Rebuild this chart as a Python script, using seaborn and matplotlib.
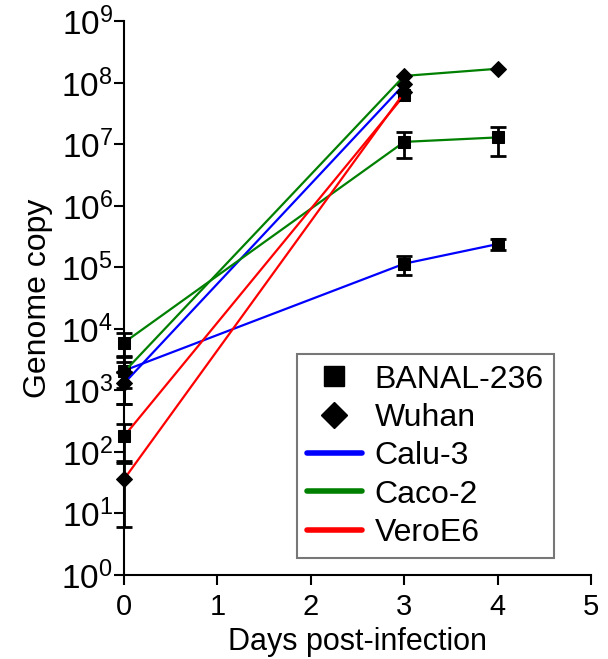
import numpy as np
import pandas as pd
import matplotlib
matplotlib.use("Agg")
import matplotlib.pyplot as plt
from matplotlib.lines import Line2D
import seaborn as sns

# values
banal_days = [0, 3, 4]
banal_calu3 = [2100, 1.15e5, 2.4e5]
banal_calu3_err = [1500, 4e4, 5e4]
banal_caco2 = [6000, 1.1e7, 1.3e7]
banal_caco2_err = [2500, 5e6, 6.5e6]
banal_vero_days = [0, 3]
banal_vero = [180, 6.3e7]
banal_vero_err = [110, 0]

wuhan_days = [0, 3]
wuhan_calu3 = [1300, 9.5e7]
wuhan_calu3_err = [700, 0]
wuhan_caco2_days = [0, 3, 4]
wuhan_caco2 = [2000, 1.3e8, 1.7e8]
wuhan_caco2_err = [900, 0, 0]
wuhan_vero = [36, 7e7]
wuhan_vero_err = [30, 0]

viruses = ["BANAL-236", "Wuhan"]
cells = ["Calu-3", "Caco-2", "VeroE6"]
cell_colors = {"Calu-3": "#0000FF", "Caco-2": "#008000", "VeroE6": "#FF0000"}
virus_markers = {"BANAL-236": "s", "Wuhan": "D"}

series = [
    ("BANAL-236", "Calu-3", banal_days, banal_calu3, banal_calu3_err),
    ("BANAL-236", "Caco-2", banal_days, banal_caco2, banal_caco2_err),
    ("BANAL-236", "VeroE6", banal_vero_days, banal_vero, banal_vero_err),
    ("Wuhan", "Calu-3", wuhan_days, wuhan_calu3, wuhan_calu3_err),
    ("Wuhan", "Caco-2", wuhan_caco2_days, wuhan_caco2, wuhan_caco2_err),
    ("Wuhan", "VeroE6", wuhan_days, wuhan_vero, wuhan_vero_err),
]

rows = []
for virus, cell, days, vals, errs in series:
    for d, v, e in zip(days, vals, errs):
        rows.append({"virus": virus, "cell": cell, "day": d, "copy": v, "err": e})
df = pd.DataFrame(rows)

sns.set_style("ticks")
plt.rcParams["font.family"] = ["Liberation Sans", "DejaVu Sans"]
plt.rcParams["mathtext.fontset"] = "custom"
plt.rcParams["mathtext.rm"] = "Liberation Sans"
plt.rcParams["mathtext.it"] = "Liberation Sans"
plt.rcParams["text.color"] = "black"
plt.rcParams["axes.labelcolor"] = "black"
plt.rcParams["xtick.color"] = "black"
plt.rcParams["ytick.color"] = "black"

fig = plt.figure(figsize=(6.08, 6.59), dpi=100)
ax = fig.add_axes([0.204, 0.1275, 0.768, 0.84])

# error bars first, black with caps
eb = df[df["err"] > 0]
ebars = ax.errorbar(eb["day"], eb["copy"], yerr=eb["err"], fmt="none", ecolor="black",
                    elinewidth=2, capsize=5.5, capthick=2, zorder=2)
for art in ebars.lines[1] + ebars.lines[2]:
    art.set_clip_on(False)

sns.lineplot(data=df, x="day", y="copy", hue="cell", style="virus",
             palette=cell_colors, markers=virus_markers, dashes=False,
             hue_order=cells, style_order=viruses,
             markersize=8, markerfacecolor="black", markeredgecolor="black",
             linewidth=1.6, legend=False, ax=ax, zorder=3, clip_on=False)

ax.set_yscale("log")
ax.set_ylim(1, 1e9)
ax.set_xlim(0, 5)
ax.set_xticks([0, 1, 2, 3, 4, 5])
ax.set_yticks([10.0 ** k for k in range(10)])
ax.set_yticklabels([r"10$^{%d}$" % k for k in range(10)])
ax.yaxis.set_minor_locator(matplotlib.ticker.NullLocator())
ax.tick_params(axis="both", width=1.5, length=7, color="black")
ax.tick_params(axis="x", labelsize=21, pad=6)
ax.tick_params(axis="y", labelsize=24, pad=1)
for s in ["left", "bottom"]:
    ax.spines[s].set_linewidth(1.5)
    ax.spines[s].set_color("black")
sns.despine(ax=ax)

ax.set_xlabel("Days post-infection", fontsize=22)
ax.set_ylabel("Genome copy", fontsize=23, labelpad=6)

handles = [
    Line2D([], [], marker="s", color="black", ls="none", markersize=14),
    Line2D([], [], marker="D", color="black", ls="none", markersize=13),
    Line2D([], [], color=cell_colors["Calu-3"], lw=4),
    Line2D([], [], color=cell_colors["Caco-2"], lw=4),
    Line2D([], [], color=cell_colors["VeroE6"], lw=4),
]
leg = ax.legend(handles, viruses + cells, loc="lower left",
                bbox_to_anchor=(0.37, 0.03), borderaxespad=0, fontsize=23,
                frameon=True, fancybox=False, handlelength=1.7,
                handletextpad=0.4, labelspacing=0.26, borderpad=0.33)
leg.get_frame().set_edgecolor("#555555")
leg.get_frame().set_linewidth(1.5)

fig.savefig("out.png", dpi=100)
